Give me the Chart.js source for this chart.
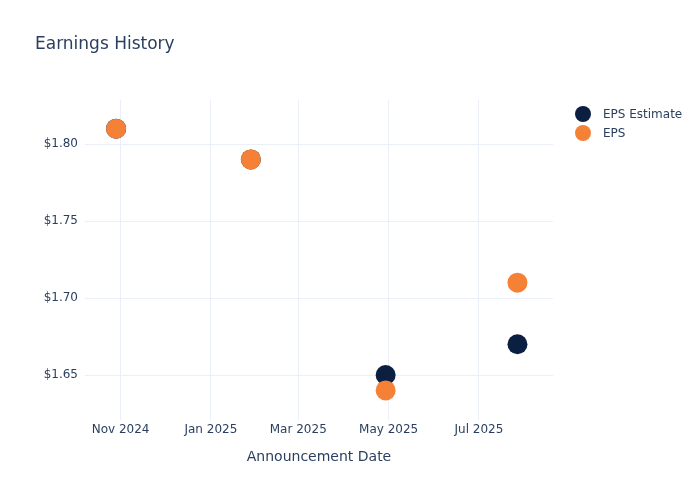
<!DOCTYPE html>
<html>
<head>
<meta charset="utf-8">
<title>Earnings History</title>
<script src="https://cdn.jsdelivr.net/npm/chart.js@4/dist/chart.umd.min.js"></script>
<style>
    html, body { margin: 0; padding: 0; background: #ffffff; }
    #wrap { width: 700px; height: 500px; position: relative; }
</style>
</head>
<body>
<div id="wrap"><canvas id="earningsChart"></canvas></div>
<script>
// ==================== Data ====================

const announceDates = ['2024-10-29', '2025-01-28', '2025-04-29', '2025-07-27'];
const epsEstimate = [1.81, 1.79, 1.65, 1.67];
const epsActual = [1.81, 1.79, 1.64, 1.71];
const monthTicks = ['2024-11-01', '2025-01-01', '2025-03-01', '2025-05-01', '2025-07-01'];
const yTicks = [1.65, 1.70, 1.75, 1.80];
const xRange = ['2024-10-08', '2025-08-20'];
const yRange = [1.6208, 1.8286];

const MONTHS = ['Jan', 'Feb', 'Mar', 'Apr', 'May', 'Jun', 'Jul', 'Aug', 'Sep', 'Oct', 'Nov', 'Dec'];
const TEXT_COLOR = '#2a3f5f';
const GRID_COLOR = '#ebf0f8';
const FONT = "'DejaVu Sans', Verdana, sans-serif";

/**
 * 'YYYY-MM-DD' -> ms (UTC)
 */
function toTime(str) {
    const [y, m, d] = str.split('-').map(Number);
    return Date.UTC(y, m - 1, d);
}

function monthLabel(ms) {
    const d = new Date(ms);
    return `${MONTHS[d.getUTCMonth()]} ${d.getUTCFullYear()}`;
}

// order: 값이 클수록 먼저 그려짐 (EPS가 위에 오도록)
const series = [
    { label: 'EPS Estimate', values: epsEstimate, color: '#0b1f41', order: 1 },
    { label: 'EPS', values: epsActual, color: '#f58137', order: 0 }
];

// ==================== Title / Legend plugin ====================

const headerPlugin = {
    id: 'header',
    afterDraw(chart) {
        const ctx = chart.ctx;
        ctx.save();
        ctx.fillStyle = TEXT_COLOR;
        ctx.textBaseline = 'middle';
        ctx.font = `17px ${FONT}`;
        ctx.fillText('Earnings History', 35, 45);

        ctx.font = `12px ${FONT}`;
        series.forEach((s, i) => {
            const y = 114 + i * 19;
            ctx.beginPath();
            ctx.arc(583, y, 8, 0, Math.PI * 2);
            ctx.fillStyle = s.color;
            ctx.fill();
            ctx.fillStyle = TEXT_COLOR;
            ctx.fillText(s.label, 603, y + 1);
        });
        ctx.restore();
    }
};

// ==================== Chart ====================

const ctx = document.getElementById('earningsChart');

new Chart(ctx, {
    type: 'scatter',
    data: {
        datasets: series.map(s => ({
            label: s.label,
            order: s.order,
            data: announceDates.map((d, i) => ({ x: toTime(d), y: s.values[i] })),
            backgroundColor: s.color,
            borderColor: s.color,
            borderWidth: 0,
            pointRadius: 10,
            pointHoverRadius: 10
        }))
    },
    options: {
        responsive: true,
        maintainAspectRatio: false,
        animation: false,
        layout: {
            padding: { top: 100, right: 147, left: 0, bottom: 0 }
        },
        plugins: {
            legend: { display: false },
            title: { display: false },
            tooltip: { enabled: false }
        },
        scales: {
            x: {
                type: 'linear',
                min: toTime(xRange[0]),
                max: toTime(xRange[1]),
                afterBuildTicks(scale) {
                    scale.ticks = monthTicks.map(d => ({ value: toTime(d) }));
                },
                afterFit(scale) {
                    scale.height = 80;
                },
                ticks: {
                    color: TEXT_COLOR,
                    font: { family: FONT, size: 12 },
                    padding: 3,
                    maxRotation: 0,
                    autoSkip: false,
                    callback: value => monthLabel(value)
                },
                grid: { color: GRID_COLOR, drawTicks: false },
                border: { display: false },
                title: {
                    display: true,
                    text: 'Announcement Date',
                    color: TEXT_COLOR,
                    font: { family: FONT, size: 14 },
                    padding: { top: 0, bottom: 34 }
                }
            },
            y: {
                min: yRange[0],
                max: yRange[1],
                afterBuildTicks(scale) {
                    scale.ticks = yTicks.map(v => ({ value: v }));
                },
                afterFit(scale) {
                    scale.width = 85;
                },
                ticks: {
                    color: TEXT_COLOR,
                    font: { family: FONT, size: 12 },
                    padding: 7,
                    callback: value => '$' + Number(value).toFixed(2)
                },
                grid: { color: GRID_COLOR, drawTicks: false },
                border: { display: false }
            }
        }
    },
    plugins: [headerPlugin]
});
</script>
</body>
</html>
